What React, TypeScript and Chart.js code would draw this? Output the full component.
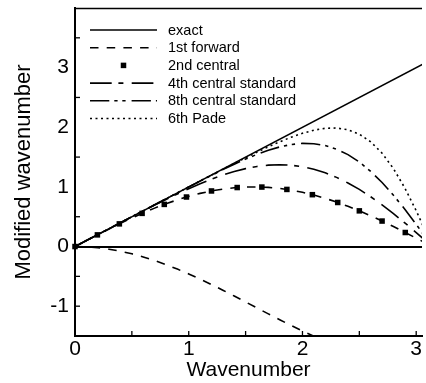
import React, { useEffect, useRef } from 'react';
import { Chart, registerables } from 'chart.js';

Chart.register(...registerables);

// wavenumber grid (x values for the curves)
const K = [0, 0.1, 0.2, 0.3, 0.4, 0.5, 0.6, 0.7, 0.8, 0.9, 1.0, 1.1, 1.2, 1.3, 1.4, 1.5,
  1.6, 1.7, 1.8, 1.9, 2.0, 2.1, 2.2, 2.3, 2.4, 2.5, 2.6, 2.7, 2.8, 2.9, 3.0, 3.1];

const EXACT_X = [0, 3.1];
const EXACT_Y = [0, 3.1];

// 1st forward: real part (positive branch) and imaginary part (negative branch)
const FWD_RE = [0, 0.0998, 0.1987, 0.2955, 0.3894, 0.4794, 0.5646, 0.6442, 0.7174, 0.7833, 0.8415,
  0.8912, 0.932, 0.9636, 0.9854, 0.9975, 0.9996, 0.9917, 0.9738, 0.9463, 0.9093, 0.8632, 0.8085,
  0.7457, 0.6755, 0.5985, 0.5155, 0.4274, 0.335, 0.2392, 0.1411, 0.0416];
const FWD_IM = [0, -0.005, -0.0199, -0.0447, -0.0789, -0.1224, -0.1747, -0.2352, -0.3033, -0.3784,
  -0.4597, -0.5464, -0.6376, -0.7325, -0.83, -0.9293, -1.0292, -1.1288, -1.2272, -1.3233, -1.4161,
  -1.5048, -1.5885, -1.6663, -1.7374, -1.8011, -1.8569, -1.9041, -1.9422, -1.971, -1.99, -1.9991];

// 2nd central markers
const C2_X = [0, 0.197, 0.39, 0.59, 0.785, 0.98, 1.2, 1.426, 1.643, 1.863, 2.087, 2.31, 2.5, 2.7, 2.904];
const C2_Y = [0, 0.1957, 0.3802, 0.5564, 0.7068, 0.8305, 0.932, 0.9894, 0.9975, 0.9577, 0.8696,
  0.739, 0.5985, 0.4274, 0.2353];

const C4 = [0, 0.1, 0.2, 0.2999, 0.3996, 0.499, 0.5975, 0.6947, 0.7899, 0.8821, 0.9705, 1.0535,
  1.1301, 1.1989, 1.258, 1.3065, 1.3425, 1.3649, 1.3722, 1.3637, 1.3385, 1.2962, 1.2366, 1.1599,
  1.0667, 0.9578, 0.8346, 0.6987, 0.5519, 0.3964, 0.2347, 0.0693];

const C8 = [0, 0.1, 0.2, 0.3, 0.4, 0.5, 0.6, 0.7, 0.7999, 0.8995, 0.9988, 1.0973, 1.1944, 1.2895,
  1.3807, 1.4671, 1.546, 1.6149, 1.6705, 1.71, 1.7292, 1.7249, 1.6938, 1.6331, 1.541, 1.4165,
  1.2602, 1.0739, 0.8606, 0.625, 0.3728, 0.1105];

const PADE6 = [0, 0.1, 0.2, 0.3, 0.4, 0.5, 0.6, 0.7, 0.8, 0.9, 0.9995, 1.0989, 1.1979, 1.2964,
  1.3935, 1.4893, 1.5826, 1.6721, 1.7563, 1.8332, 1.8994, 1.951, 1.9828, 1.9878, 1.9581, 1.8839,
  1.7559, 1.5656, 1.3071, 0.982, 0.5999, 0.18];

const LABELS = ['exact', '1st forward', '2nd central', '4th central standard', '8th central standard', '6th Pade'];

const X_TICKS = [0.5, 1, 1.5, 2, 2.5, 3];
const Y_TICKS = [-1, -0.5, 0.5, 1.5, 2.5, 3.5];

const FONT = '"Liberation Sans", Arial, Helvetica, sans-serif';

function pts(xs: number[], ys: number[]) {
  return xs.map((x, i) => ({ x, y: ys[i] }));
}

const DASH_FWD = [8.5, 8.2];
const DASH_C4 = [21.7, 6.7, 5, 8.3];
const DASH_C8 = [19.3, 5, 3.3, 4.7, 3.3, 6];
const DASH_PADE = [2, 3.5];

export default function App() {
  const ref = useRef<HTMLCanvasElement>(null);

  useEffect(() => {
    document.body.style.margin = '0';
    const canvas = ref.current;
    if (!canvas) return;

    const line = (data: any[], dash: number[], legendIdx: number | null) => ({
      data,
      showLine: true,
      borderColor: '#000',
      borderWidth: 1.6,
      borderDash: dash,
      pointRadius: 0,
      fill: false,
      legendIdx,
    });

    const extras = {
      id: 'extras',
      afterDatasetsDraw(chart: any) {
        const ctx = chart.ctx;
        const { top, left, right } = chart.chartArea;
        const xs = chart.scales.x;
        const ys = chart.scales.y;
        ctx.save();
        ctx.strokeStyle = '#000';
        ctx.setLineDash([]);
        // top frame line
        ctx.lineWidth = 1.4;
        ctx.beginPath();
        ctx.moveTo(left, top + 0.5);
        ctx.lineTo(right, top + 0.5);
        ctx.stroke();
        // inward tick marks
        ctx.lineWidth = 1.3;
        const bottom = chart.chartArea.bottom;
        X_TICKS.forEach((v) => {
          const px = xs.getPixelForValue(v);
          ctx.beginPath();
          ctx.moveTo(px, bottom);
          ctx.lineTo(px, bottom - 5);
          ctx.stroke();
        });
        Y_TICKS.forEach((v) => {
          const py = ys.getPixelForValue(v);
          ctx.beginPath();
          ctx.moveTo(left, py);
          ctx.lineTo(left + 5, py);
          ctx.stroke();
        });
        // legend
        const x0 = 90, x1 = 157, tx = 168, y0 = 30, row = 17.7;
        ctx.font = `14.5px ${FONT}`;
        ctx.fillStyle = '#000';
        ctx.textBaseline = 'middle';
        ctx.textAlign = 'left';
        chart.data.datasets.forEach((ds: any) => {
          if (ds.legendIdx === null || ds.legendIdx === undefined) return;
          const y = y0 + ds.legendIdx * row;
          if (ds.showLine) {
            ctx.lineWidth = 1.6;
            ctx.setLineDash(ds.borderDash || []);
            ctx.beginPath();
            ctx.moveTo(x0, y);
            ctx.lineTo(x1, y);
            ctx.stroke();
            ctx.setLineDash([]);
          } else {
            const s = 5.5;
            ctx.fillRect((x0 + x1) / 2 - s / 2, y - s / 2, s, s);
          }
          ctx.fillText(LABELS[ds.legendIdx], tx, y + 0.5);
        });
        ctx.restore();
      },
    };

    const chart = new Chart(canvas, {
      type: 'scatter',
      data: {
        datasets: [
          line(pts(EXACT_X, EXACT_Y), [], 0) as any,
          line(pts(K, FWD_IM), DASH_FWD, 1) as any,
          line(pts(K, FWD_RE), DASH_FWD, null) as any,
          {
            data: pts(C2_X, C2_Y),
            showLine: false,
            pointStyle: 'rect',
            pointRadius: 3.9,
            pointBackgroundColor: '#000',
            pointBorderWidth: 0,
            clip: false,
            legendIdx: 2,
          } as any,
          line(pts(K, C4), DASH_C4, 3) as any,
          line(pts(K, C8), DASH_C8, 4) as any,
          line(pts(K, PADE6), DASH_PADE, 5) as any,
        ],
      },
      options: {
        animation: false,
        responsive: true,
        maintainAspectRatio: false,
        layout: { padding: { top: 8, right: 0, bottom: 0, left: 0 } },
        plugins: { legend: { display: false }, tooltip: { enabled: false } },
        elements: { line: { tension: 0 } },
        scales: {
          x: {
            type: 'linear',
            position: 'bottom',
            min: 0,
            max: 3.051,
            grid: { display: false, drawTicks: false },
            border: { display: true, color: '#000', width: 2 },
            ticks: {
              stepSize: 1,
              includeBounds: false,
              color: '#000',
              padding: 1,
              font: { family: FONT, size: 21 },
              maxRotation: 0,
            },
            title: {
              display: true,
              text: 'Wavenumber',
              color: '#000',
              font: { family: FONT, size: 21 },
              padding: { top: 0, bottom: 0 },
            },
            afterFit(scale: any) {
              scale.height = 47;
              scale.paddingLeft = 0;
              scale.paddingRight = 0;
            },
          },
          y: {
            type: 'linear',
            position: 'left',
            min: -1.5,
            max: 4,
            grid: {
              drawTicks: false,
              color: (c: any) => (c.tick && c.tick.value === 0 ? '#000' : 'rgba(0,0,0,0)'),
              lineWidth: (c: any) => (c.tick && c.tick.value === 0 ? 2 : 0),
            },
            border: { display: true, color: '#000', width: 2 },
            ticks: {
              stepSize: 1,
              includeBounds: false,
              color: '#000',
              padding: 6,
              font: { family: FONT, size: 21 },
              callback: (v: any) => (v === 4 ? '' : String(v)),
            },
            title: {
              display: true,
              text: 'Modified wavenumber',
              color: '#000',
              font: { family: FONT, size: 22 },
              padding: { top: 11, bottom: 0 },
            },
            afterFit(scale: any) {
              scale.width = 75;
              scale.paddingTop = 0;
              scale.paddingBottom = 0;
            },
          },
        },
      },
      plugins: [extras],
    } as any);

    return () => chart.destroy();
  }, []);

  return (
    <div style={{ position: 'absolute', left: 0, top: 0, width: 426, height: 383 }}>
      <canvas ref={ref} />
    </div>
  );
}
